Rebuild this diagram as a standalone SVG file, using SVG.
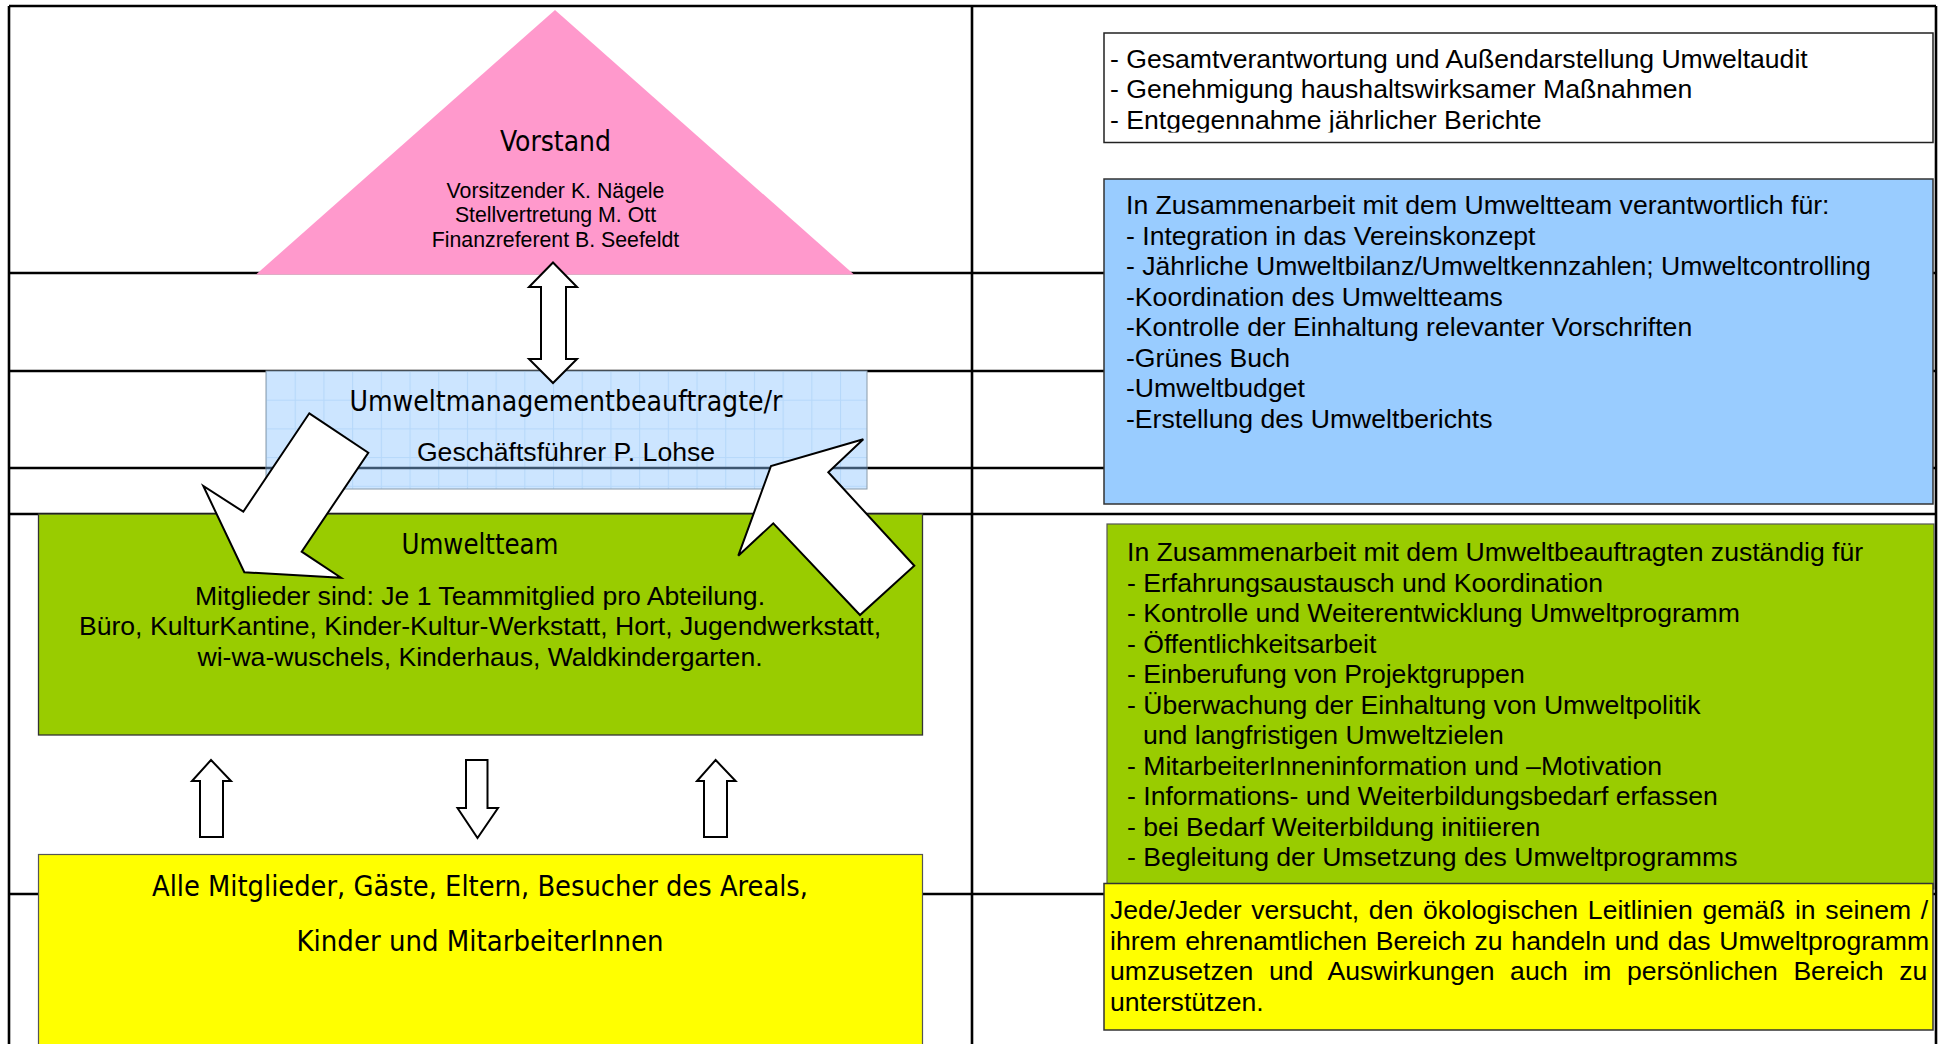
<svg xmlns="http://www.w3.org/2000/svg" width="1939" height="1044" viewBox="0 0 1939 1044">
<style>
  .grid { stroke:#000; stroke-width:2.6; fill:none; }
  .arr { fill:#fff; stroke:#000; stroke-width:2; stroke-linejoin:miter; }
  .t { font-family:"Liberation Sans", Arial, sans-serif; font-size:26.6px; fill:#000; }
  .ts { font-family:"Liberation Sans", Arial, sans-serif; font-size:21.3px; fill:#000; }
  .h { font-family:"DejaVu Sans Condensed", "DejaVu Sans", sans-serif; font-stretch:condensed; font-size:28px; fill:#000; }
  .mid { text-anchor:middle; }
</style>
<defs>
  <pattern id="bluegrid" patternUnits="userSpaceOnUse" x="266" y="371" width="28.7" height="28.7">
    <rect width="28.7" height="28.7" fill="#CCE5FF"/>
    <path d="M0.5,0 V28.7 M0,0.5 H28.7" stroke="#B6D8FA" stroke-width="1.1"/>
  </pattern>
  <clipPath id="clip1">
    <rect x="1104" y="33" width="829" height="99.5"/>
  </clipPath>
</defs>
<rect width="1939" height="1044" fill="#fff"/>

<g id="table">
  <path class="grid" d="M9,6 H1936 M9,6 V1044 M1936,6 V1044 M972,6 V1044 M9,273 H1936 M9,371 H1936 M9,468 H1936 M9,514 H1936 M9,894 H1936"/>
</g>

<g id="vorstand">
  <polygon points="555,10 854,274.5 256,274.5" fill="#FF99CC"/>
  <text class="h mid" x="555.5" y="151" textLength="111" lengthAdjust="spacingAndGlyphs">Vorstand</text>
  <text class="ts mid" x="555.5" y="198">Vorsitzender K. Nägele</text>
  <text class="ts mid" x="555.5" y="222">Stellvertretung M. Ott</text>
  <text class="ts mid" x="555.5" y="246.5">Finanzreferent B. Seefeldt</text>
</g>

<g id="umweltbeauftragte">
  <rect x="266" y="371" width="601" height="118" fill="url(#bluegrid)" stroke="#8a9aa8" stroke-width="1"/>
  <line x1="266" y1="468" x2="867" y2="468" stroke="#3d5670" stroke-width="2.4"/>
  <text class="h mid" x="566" y="410.7" textLength="433" lengthAdjust="spacingAndGlyphs">Umweltmanagementbeauftragte/r</text>
  <text class="t mid" x="566" y="461">Geschäftsführer P. Lohse</text>
</g>

<g id="umweltteam">
  <rect x="38.5" y="514" width="884" height="221" fill="#99CC00" stroke="#333" stroke-width="1.3"/>
  <text class="h mid" x="480" y="554" textLength="157" lengthAdjust="spacingAndGlyphs">Umweltteam</text>
  <text class="t mid" x="480" y="604.5">Mitglieder sind: Je 1 Teammitglied pro Abteilung.</text>
  <text class="t mid" x="480" y="635">Büro, KulturKantine, Kinder-Kultur-Werkstatt, Hort, Jugendwerkstatt,</text>
  <text class="t mid" x="480" y="665.5">wi-wa-wuschels, Kinderhaus, Waldkindergarten.</text>
</g>

<g id="alle">
  <rect x="38.5" y="854.5" width="884" height="200" fill="#FFFF00" stroke="#555" stroke-width="1.2"/>
  <text class="h mid" x="480" y="895.6" textLength="656" lengthAdjust="spacingAndGlyphs">Alle Mitglieder, Gäste, Eltern, Besucher des Areals,</text>
  <text class="h mid" x="480" y="951" textLength="367" lengthAdjust="spacingAndGlyphs">Kinder und MitarbeiterInnen</text>
</g>

<g id="connectors">
  <path class="arr" d="M553,262.5 L577,287 L566,287 L566,359 L577,359 L553,383 L529,359 L541,359 L541,287 L529,287 Z"/>
  <polygon class="arr" points="309.3,413.3 368.3,452.7 301.7,551.7 341,577.7 244.3,572.3 203.3,486 243.3,511.7"/>
  <polygon class="arr" points="863.3,439.3 771,466 738.3,555.7 773.3,523.3 860,615 914.3,565.7 828.3,472.3"/>
  <path class="arr" d="M211,760 L231,781 L223,781 L223,837 L200,837 L200,781 L192,781 Z"/>
  <path class="arr" d="M466,760 L487.5,760 L487.5,808 L498,808 L477.5,838 L457.5,808 L466,808 Z"/>
  <path class="arr" d="M715.6,760 L735.6,781 L727,781 L727,837 L704,837 L704,781 L697,781 Z"/>
</g>

<g id="aufgaben-vorstand">
  <rect x="1104" y="33" width="829" height="109.5" fill="#fff" stroke="#222" stroke-width="1.5"/>
  <g clip-path="url(#clip1)">
    <text class="t" x="1110" y="67.5">- Gesamtverantwortung und Außendarstellung Umweltaudit</text>
    <text class="t" x="1110" y="98">- Genehmigung haushaltswirksamer Maßnahmen</text>
    <text class="t" x="1110" y="128.5">- Entgegennahme jährlicher Berichte</text>
  </g>
</g>

<g id="aufgaben-beauftragte">
  <rect x="1104" y="179" width="829" height="325" fill="#99CCFF" stroke="#333" stroke-width="1.5"/>
  <text class="t" x="1126" y="214">In Zusammenarbeit mit dem Umweltteam verantwortlich für:</text>
  <text class="t" x="1126" y="244.5">- Integration in das Vereinskonzept</text>
  <text class="t" x="1126" y="275">- Jährliche Umweltbilanz/Umweltkennzahlen; Umweltcontrolling</text>
  <text class="t" x="1126" y="305.5">-Koordination des Umweltteams</text>
  <text class="t" x="1126" y="336">-Kontrolle der Einhaltung relevanter Vorschriften</text>
  <text class="t" x="1126" y="366.5">-Grünes Buch</text>
  <text class="t" x="1126" y="397">-Umweltbudget</text>
  <text class="t" x="1126" y="427.5">-Erstellung des Umweltberichts</text>
</g>

<g id="aufgaben-team">
  <rect x="1107" y="524" width="827" height="365" fill="#99CC00" stroke="#555" stroke-width="1.2"/>
  <text class="t" x="1127" y="561">In Zusammenarbeit mit dem Umweltbeauftragten zuständig für</text>
  <text class="t" x="1127" y="591.5">- Erfahrungsaustausch und Koordination</text>
  <text class="t" x="1127" y="622">- Kontrolle und Weiterentwicklung Umweltprogramm</text>
  <text class="t" x="1127" y="652.5">- Öffentlichkeitsarbeit</text>
  <text class="t" x="1127" y="683">- Einberufung von Projektgruppen</text>
  <text class="t" x="1127" y="713.5">- Überwachung der Einhaltung von Umweltpolitik</text>
  <text class="t" x="1143" y="744">und langfristigen Umweltzielen</text>
  <text class="t" x="1127" y="774.5">- MitarbeiterInneninformation und –Motivation</text>
  <text class="t" x="1127" y="805">- Informations- und Weiterbildungsbedarf erfassen</text>
  <text class="t" x="1127" y="835.5">- bei Bedarf Weiterbildung initiieren</text>
  <text class="t" x="1127" y="866">- Begleitung der Umsetzung des Umweltprogramms</text>
</g>

<g id="aufgaben-alle">
  <rect x="1104" y="883.5" width="829" height="146.5" fill="#FFFF00" stroke="#333" stroke-width="1.5"/>
  <text class="t" x="1110" y="919" word-spacing="2.3">Jede/Jeder versucht, den ökologischen Leitlinien gemäß in seinem /</text>
  <text class="t" x="1110" y="949.5" word-spacing="1.3">ihrem ehrenamtlichen Bereich zu handeln und das Umweltprogramm</text>
  <text class="t" x="1110" y="980" word-spacing="8.2">umzusetzen und Auswirkungen auch im persönlichen Bereich zu</text>
  <text class="t" x="1110" y="1010.5">unterstützen.</text>
</g>
</svg>
